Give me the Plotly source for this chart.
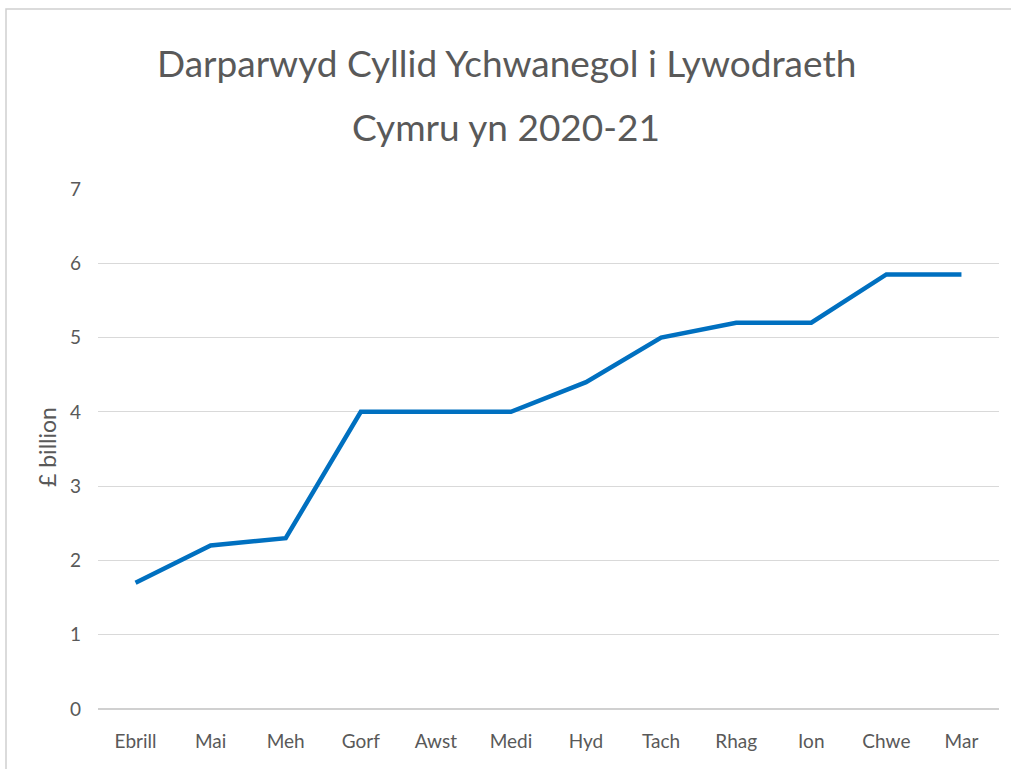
import plotly.graph_objects as go

months = ["Ebrill", "Mai", "Meh", "Gorf", "Awst", "Medi", "Hyd", "Tach", "Rhag", "Ion", "Chwe", "Mar"]
funding_bn = [1.7, 2.2, 2.3, 4.0, 4.0, 4.0, 4.4, 5.0, 5.2, 5.2, 5.85, 5.85]
y_ticks = [0, 1, 2, 3, 4, 5, 6, 7]
title_lines = ["Darparwyd Cyllid Ychwanegol i Lywodraeth", "Cymru yn 2020-21"]
y_title = "£ billion"

W, H = 1011, 769
L, R, T, B = 98, 12, 189, 60
pw, ph = W - L - R, H - T - B

def px(x):
    return (x - L) / pw

def py(y):
    return (H - B - y) / ph

grey = "#595959"
font = "Lato, Carlito, 'Open Sans', sans-serif"

fig = go.Figure()
fig.add_trace(go.Scatter(
    x=months, y=funding_bn, mode="lines",
    line=dict(color="#0070C0", width=4.5),
    hoverinfo="x+y", showlegend=False,
))

fig.update_layout(
    width=W, height=H,
    margin=dict(l=L, r=R, t=T, b=B),
    paper_bgcolor="white", plot_bgcolor="white",
    font=dict(family=font, color=grey, size=19),
    xaxis=dict(
        type="category", showgrid=False, zeroline=False, showline=False,
        ticks="", tickfont=dict(size=19, color=grey), ticklabelstandoff=19,
        range=[-0.5, len(months) - 0.5],
    ),
    yaxis=dict(
        range=[0, 7], tickvals=y_ticks, showgrid=True, gridcolor="#d9d9d9",
        gridwidth=1, zeroline=True, zerolinecolor="#d0d0d0", zerolinewidth=1.5,
        showline=False, ticks="", tickfont=dict(size=19, color=grey),
        ticklabelstandoff=16,
    ),
    shapes=[dict(
        type="rect", xref="paper", yref="paper",
        x0=px(6), x1=px(1020), y0=py(780), y1=py(9),
        line=dict(color="#d0d0d0", width=1.5), fillcolor="rgba(0,0,0,0)", layer="below",
    )],
    annotations=[
        dict(text=title_lines[0], xref="paper", yref="paper", x=px(506), y=py(63),
             showarrow=False, font=dict(size=37, color=grey, family=font),
             xanchor="center", yanchor="middle"),
        dict(text=title_lines[1], xref="paper", yref="paper", x=px(506), y=py(127),
             showarrow=False, font=dict(size=37, color=grey, family=font),
             xanchor="center", yanchor="middle"),
        dict(text=y_title, xref="paper", yref="paper", x=px(47), y=py(447),
             showarrow=False, textangle=-90, font=dict(size=23, color=grey, family=font),
             xanchor="center", yanchor="middle"),
    ],
)

fig.write_html("out.html", config={"displayModeBar": False},
               post_script="document.body.style.margin='0';")
